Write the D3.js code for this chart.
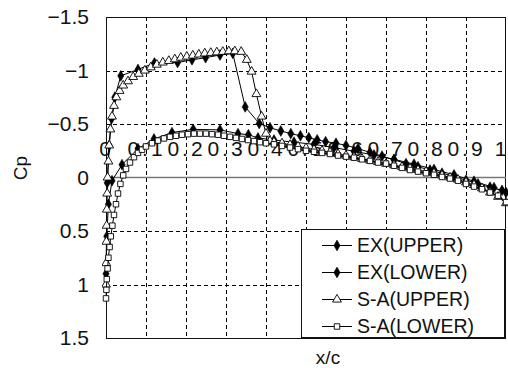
<!DOCTYPE html>
<html><head><meta charset="utf-8">
<script src="https://cdn.jsdelivr.net/npm/d3@7"></script>
<style>
body{margin:0;background:#fff;}
svg{display:block;font-family:"Liberation Sans",Arial,sans-serif;}
</style></head><body>
<svg id="c" width="508" height="368"></svg>
<script>
const xTicks = [0,0.1,0.2,0.3,0.4,0.5,0.6,0.7,0.8,0.9,1];
const xTickLabels = ["0","0.1","0.2","0.3","0.4","0.5","0.6","0.7","0.8","0.9","1"];
const yTicks = [-1.5,-1,-0.5,0,0.5,1,1.5];
const yTickLabels = ["\u22121.5","\u22121","\u22120.5","0","0.5","1","1.5"];
const seriesNames = ["EX(UPPER)","EX(LOWER)","S-A(UPPER)","S-A(LOWER)"];

const exUpperX = [0.003,0.008,0.014,0.022,0.037,0.08,0.121,0.179,0.215,0.249,0.285,0.317,0.348,0.383,0.41,0.437,0.462,0.486,0.507,0.528,0.549,0.575,0.60,0.63,0.66,0.69,0.72,0.75,0.78,0.81,0.84,0.87,0.90,0.93,0.96,0.99];
const exUpperCp = [0.05,-0.3,-0.55,-0.75,-0.95,-1.01,-1.07,-1.075,-1.1,-1.12,-1.145,-1.16,-0.66,-0.505,-0.465,-0.435,-0.41,-0.39,-0.372,-0.352,-0.335,-0.32,-0.3,-0.27,-0.235,-0.2,-0.165,-0.13,-0.1,-0.07,-0.04,-0.01,0.025,0.06,0.09,0.12];

const exLowerX = [0.0,0.002,0.006,0.015,0.04,0.08,0.12,0.165,0.218,0.285,0.33,0.356,0.38,0.42,0.47,0.52,0.57,0.62,0.67,0.72,0.77,0.82,0.87,0.92,0.97,1.0];
const exLowerCp = [0.9,0.55,0.25,0.03,-0.12,-0.27,-0.36,-0.42,-0.45,-0.445,-0.41,-0.4,-0.37,-0.35,-0.33,-0.31,-0.28,-0.245,-0.21,-0.17,-0.125,-0.075,-0.025,0.035,0.095,0.14];

const saUpperX = [0.0,0.0005,0.001,0.0015,0.002,0.003,0.004,0.006,0.008,0.011,0.015,0.02,0.026,0.034,0.043,0.055,0.068,0.082,0.097,0.112,0.127,0.142,0.157,0.172,0.187,0.202,0.217,0.232,0.247,0.262,0.277,0.292,0.307,0.322,0.338,0.352,0.364,0.376,0.389,0.40,0.41,0.42,0.44,0.46,0.48,0.50,0.52,0.54,0.56,0.58,0.60,0.62,0.64,0.66,0.68,0.70,0.72,0.74,0.76,0.78,0.80,0.82,0.84,0.86,0.88,0.90,0.92,0.94,0.96,0.98,1.0];
const saUpperCp = [1.0,0.8,0.6,0.45,0.3,0.15,0.0,-0.15,-0.3,-0.45,-0.57,-0.67,-0.75,-0.81,-0.86,-0.9,-0.94,-0.97,-1.0,-1.03,-1.055,-1.075,-1.09,-1.105,-1.12,-1.13,-1.14,-1.15,-1.16,-1.165,-1.17,-1.175,-1.18,-1.18,-1.175,-1.1,-0.99,-0.78,-0.57,-0.41,-0.34,-0.33,-0.32,-0.305,-0.29,-0.275,-0.26,-0.25,-0.235,-0.22,-0.205,-0.19,-0.175,-0.16,-0.145,-0.13,-0.115,-0.1,-0.085,-0.07,-0.055,-0.04,-0.02,0.0,0.02,0.045,0.07,0.1,0.14,0.18,0.24];

const saLowerX = [0.0,0.001,0.002,0.004,0.006,0.009,0.012,0.016,0.02,0.025,0.03,0.036,0.043,0.05,0.06,0.07,0.08,0.09,0.1,0.115,0.13,0.145,0.16,0.175,0.19,0.205,0.22,0.235,0.25,0.265,0.28,0.295,0.31,0.325,0.34,0.355,0.37,0.385,0.40,0.42,0.44,0.46,0.48,0.50,0.52,0.54,0.56,0.58,0.60,0.62,0.64,0.66,0.68,0.70,0.72,0.74,0.76,0.78,0.80,0.82,0.84,0.86,0.88,0.90,0.92,0.94,0.96,0.98,1.0];
const saLowerCp = [1.13,1.05,0.95,0.85,0.75,0.65,0.55,0.45,0.35,0.25,0.15,0.06,-0.02,-0.08,-0.14,-0.19,-0.23,-0.26,-0.29,-0.32,-0.345,-0.365,-0.38,-0.39,-0.4,-0.405,-0.41,-0.41,-0.41,-0.405,-0.4,-0.39,-0.38,-0.37,-0.36,-0.35,-0.34,-0.33,-0.32,-0.31,-0.295,-0.28,-0.265,-0.25,-0.24,-0.23,-0.22,-0.205,-0.195,-0.185,-0.17,-0.155,-0.14,-0.13,-0.11,-0.09,-0.07,-0.055,-0.04,-0.025,-0.005,0.01,0.03,0.06,0.085,0.11,0.14,0.17,0.23];

const svg = d3.select("#c");
const L=106, R=506, T=17, B=338;
const x = d3.scaleLinear().domain([0,1]).range([L,R]);
const y = d3.scaleLinear().domain([-1.5,1.5]).range([T,B]);
const px = v => Math.round(v)+0.5;

// gridlines
const g = svg.append("g");
g.selectAll(".vg").data(xTicks.slice(1,-1)).join("line")
 .attr("x1",d=>px(x(d))).attr("x2",d=>px(x(d))).attr("y1",T).attr("y2",B)
 .attr("stroke","#000").attr("stroke-width",1).attr("stroke-dasharray","4,3");
g.selectAll(".hg").data(yTicks.filter(d=>d!==0 && d!==-1.5 && d!==1.5)).join("line")
 .attr("x1",L).attr("x2",R).attr("y1",d=>px(y(d))).attr("y2",d=>px(y(d)))
 .attr("stroke","#000").attr("stroke-width",1).attr("stroke-dasharray","4,3");
// plot border
svg.append("rect").attr("x",L+0.5).attr("y",T+0.5).attr("width",R-L-1).attr("height",B-T)
 .attr("fill","none").attr("stroke","#111").attr("stroke-width",1);
// zero axis line
svg.append("line").attr("x1",L).attr("x2",R).attr("y1",y(0)).attr("y2",y(0))
 .attr("stroke","#777").attr("stroke-width",1.5);

// y axis
const ya = svg.append("g").attr("transform",`translate(${L},0)`)
 .call(d3.axisLeft(y).tickValues(yTicks).tickSize(0).tickPadding(17).tickFormat((d,i)=>yTickLabels[i]));
ya.select(".domain").remove();
ya.selectAll("text").attr("font-size",21).attr("fill","#111").attr("font-family","Liberation Sans, Arial, sans-serif");

// x axis at Cp=0 with labels above
const xa = svg.append("g").attr("transform",`translate(0,${y(0)})`)
 .call(d3.axisTop(x).tickValues(xTicks).tickSize(0).tickPadding(22).tickFormat((d,i)=>xTickLabels[i]));
xa.select(".domain").remove();
xa.selectAll("text").attr("font-size",21).attr("fill","#111").attr("letter-spacing","3px")
 .attr("font-family","Liberation Sans, Arial, sans-serif");
xa.selectAll(".tick").filter(d=>d===1).select("text").attr("text-anchor","end").attr("dx","3");

// axis titles
svg.append("text").attr("transform","translate(27,168) rotate(-90)").attr("text-anchor","middle")
 .attr("font-size",19).attr("fill","#111").text("Cp");
svg.append("text").attr("x",328).attr("y",364).attr("text-anchor","middle")
 .attr("font-size",19).attr("fill","#111").text("x/c");

const line = d3.line().x(d=>x(d[0])).y(d=>y(d[1]));
const zip = (a,b)=>a.map((v,i)=>[v,b[i]]);
const series = [
 {data:zip(exUpperX,exUpperCp), m:"diamond"},
 {data:zip(exLowerX,exLowerCp), m:"diamond"},
 {data:zip(saUpperX,saUpperCp), m:"triangle"},
 {data:zip(saLowerX,saLowerCp), m:"square"}
];
svg.append("clipPath").attr("id","pc").append("rect").attr("x",L-4).attr("y",T).attr("width",R-L+8).attr("height",B-T);
const symGen = {
 diamond: d3.symbol().type(d3.symbolDiamond).size(34),
 triangle: d3.symbol().type(d3.symbolTriangle).size(34),
 square: d3.symbol().type(d3.symbolSquare).size(30)
};
function drawMarker(sel, m){
 sel.attr("d",symGen[m]())
  .attr("fill", m==="diamond" ? "#000" : "#fff")
  .attr("stroke","#000").attr("stroke-width", m==="diamond"?0.5:0.9);
}
const pg = svg.append("g").attr("clip-path","url(#pc)");
series.forEach(s=>{
 pg.append("path").datum(s.data).attr("d",line).attr("fill","none")
  .attr("stroke","#000").attr("stroke-width",1);
 pg.selectAll(null).data(s.data).join("path")
  .attr("transform",d=>`translate(${x(d[0])},${y(d[1])})`)
  .call(drawMarker, s.m);
});

// legend
const lg = svg.append("g");
lg.append("rect").attr("x",301.5).attr("y",229.5).attr("width",203).attr("height",108)
 .attr("fill","#fff").attr("stroke","#111").attr("stroke-width",1);
seriesNames.forEach((n,i)=>{
 const cy = 245 + i*27;
 lg.append("line").attr("x1",322).attr("x2",352).attr("y1",cy+0.5).attr("y2",cy+0.5)
  .attr("stroke","#000").attr("stroke-width",1);
 lg.append("path").attr("transform",`translate(337,${cy+0.5})`).call(drawMarker, series[i].m);
 lg.append("text").attr("x",357).attr("y",cy+7).attr("font-size",19.5).attr("fill","#111").text(n);
});
</script>
</body></html>
